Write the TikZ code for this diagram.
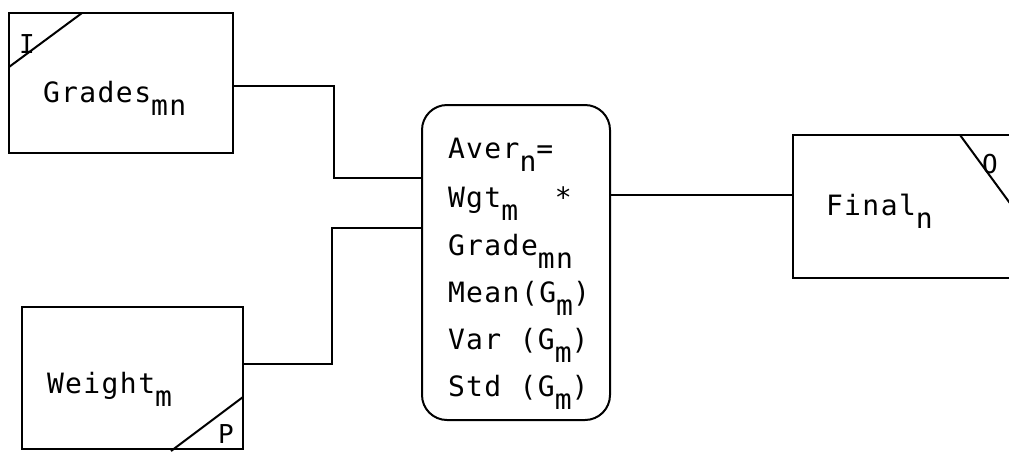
\documentclass[tikz,border=0pt]{standalone}
\usepackage{fontspec}
\setmonofont{DejaVu Sans Mono}
\newfontfamily\twfont[LetterSpace=5]{DejaVu Sans Mono}
\newcommand\lowr[1]{\raisebox{-0.48em}{#1}}
\begin{document}
\begin{tikzpicture}[x=1pt,y=-1pt,line width=2pt,
  boxst/.style={draw,rectangle,inner sep=0pt},
  txt/.style={font=\twfont\fontsize{28}{32}\selectfont,inner sep=0pt,anchor=base west},
  tag/.style={font=\ttfamily\fontsize{26}{30}\selectfont,inner sep=0pt}]
\useasboundingbox (0,0) rectangle (1009,451);
\clip (0,0) rectangle (1009,451);
% boxes
\node[boxst,minimum width=224pt,minimum height=140pt] (grades) at (121,83) {};
\node[boxst,minimum width=221pt,minimum height=142pt] (weight) at (132.5,378) {};
\node[boxst,minimum width=237pt,minimum height=143pt] (final) at (911.5,206.5) {};
\node[boxst,rounded corners=25pt,minimum width=188pt,minimum height=315pt] (calc) at (516,262.5) {};
% corner marks
\draw (9,67) -- (82,13);
\draw (243,397) -- (171,451);
\draw (960,135) -- (1012,206);
\node[tag] (tI) at (27,44) {I};
\node[tag,anchor=base] (tP) at (226,443) {P};
\node[tag] (tO) at (990,164) {O};
% texts
\node[txt] (lgrades) at (42,102) {Grades\lowr{mn}};
\node[txt] (lweight) at (46,393) {Weight\lowr{m}};
\node[txt] (lfinal) at (825,215) {Final\lowr{n}};
\node[txt] (c1) at (447,158) {Aver\lowr{n}=};
\node[txt] (c2) at (447,207) {Wgt\lowr{m}\ \ *};
\node[txt] (c3) at (447,255) {Grade\lowr{mn}};
\node[txt] (c4) at (447,302) {Mean(G\lowr{m})};
\node[txt] (c5) at (447,349) {Var (G\lowr{m})};
\node[txt] (c6) at (447,396) {Std (G\lowr{m})};
% connectors
\draw ([yshift=-3pt]grades.east) -- ++(100,0) |- (calc.west |- 0,178);
\draw (weight.east |- 0,364) -- (332,364) |- (calc.west |- 0,228);
\draw (calc.east |- 0,195) -- (final.west |- 0,195);
\end{tikzpicture}
\end{document}
